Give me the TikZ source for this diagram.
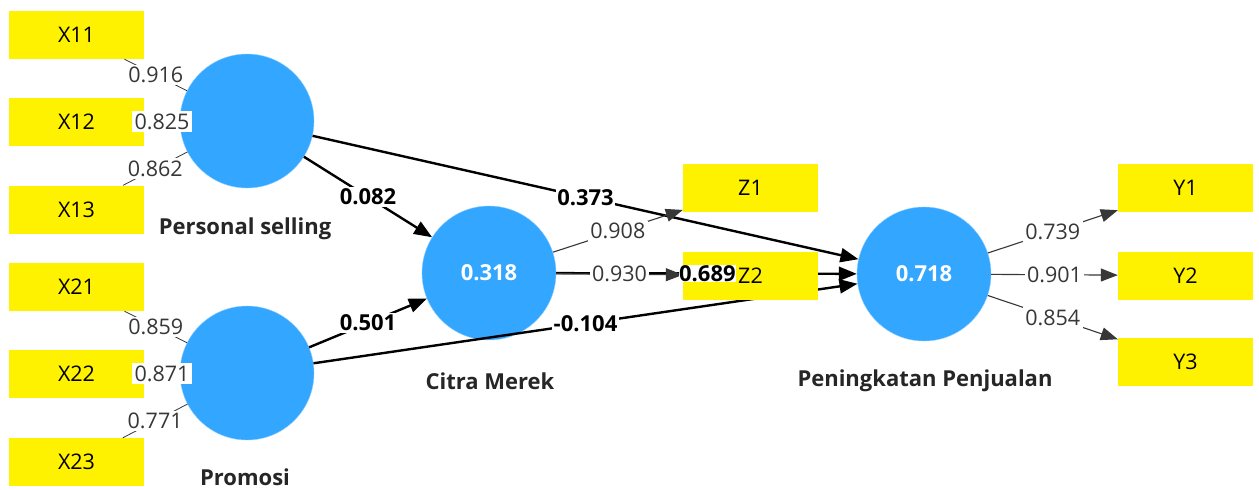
\documentclass[tikz,border=0pt]{standalone}
\usepackage{fontspec}
\setmainfont{Open Sans}
\usetikzlibrary{arrows.meta}
\definecolor{lvblue}{RGB}{51,166,255}
\definecolor{loadgray}{RGB}{55,55,55}
\tikzset{
  ind/.style={fill=yellow, minimum width=135pt, minimum height=48pt, inner sep=0pt,
    font=\fontsize{21.5}{25}\selectfont},
  lv/.style={circle, fill=lvblue, draw=lvblue!55, minimum size=134pt, inner sep=0pt,
    text=white, font=\fontsize{22}{25}\selectfont\bfseries},
  lvname/.style={font=\fontsize{22}{25}\selectfont\bfseries, text=black!85},
  inner/.style={line width=2.4pt, -{Triangle[length=18pt,width=14pt]}},
  outer/.style={line width=1.1pt, draw=loadgray, -{Triangle[length=17pt,width=13pt]}},
  outerleft/.style={line width=0.8pt, draw=loadgray},
  coef/.style={fill=white, inner sep=1.5pt, font=\fontsize{22}{25}\selectfont\bfseries},
  load/.style={fill=white, inner sep=2.5pt, text=loadgray, font=\fontsize{21.5}{25}\selectfont},
}
\begin{document}
\begin{tikzpicture}[x=1pt,y=-1pt]
  \fill[white] (0,0) rectangle (1259,490);
  \useasboundingbox (0,0) rectangle (1259,490);
  % Variabel laten
  \node[lv] (ps) at (247,121) {};
  \node[lv] (pr) at (247,373) {};
  \node[lv] (cm) at (489,273) {0.318};
  \node[lv] (pp) at (924,274) {0.718};
  % Nama variabel
  \node[lvname] (psname) at (245,229) {Personal selling};
  \node[lvname] (prname) at (245,477) {Promosi};
  \node[lvname] (cmname) at (490,381) {Citra Merek};
  \node[lvname] (ppname) at (925,381) {Peningkatan Penjualan};
  % Koefisien jalur
  \draw[inner] (ps) -- (pp) node[coef, midway] {0.373};
  \draw[inner] (ps) -- (cm) node[coef, midway] {0.082};
  \draw[inner] (pr) -- (cm) node[coef, midway] {0.501};
  \draw[inner] (pr) -- (pp) node[coef, midway] {-0.104};
  \draw[inner] (cm) -- (pp);
  % Indikator
  \node[ind] (x11) at (76.5,35) {X11};
  \node[ind] (x12) at (76.5,122) {X12};
  \node[ind] (x13) at (76.5,209.5) {X13};
  \node[ind] (x21) at (76.5,287) {X21};
  \node[ind] (x22) at (76.5,374) {X22};
  \node[ind] (x23) at (76.5,462) {X23};
  \node[ind] (z1) at (750.5,188) {Z1};
  \node[ind] (z2) at (750.5,275.5) {Z2};
  \node[ind] (y1) at (1185.5,188) {Y1};
  \node[ind] (y2) at (1185.5,275.5) {Y2};
  \node[ind] (y3) at (1185.5,362) {Y3};
  % Outer loading
  \draw[outerleft] (ps) -- (x11) node[load, midway] {0.916};
  \draw[outerleft] (ps) -- (x12) node[load, midway] {0.825};
  \draw[outerleft] (ps) -- (x13) node[load, midway] {0.862};
  \draw[outerleft] (pr) -- (x21) node[load, midway] {0.859};
  \draw[outerleft] (pr) -- (x22) node[load, midway] {0.871};
  \draw[outerleft] (pr) -- (x23) node[load, midway] {0.771};
  \draw[outer] (cm) -- (z1) node[load, midway] {0.908};
  \draw[outer] (cm) -- (z2) node[load, midway] {0.930};
  \draw[outer] (pp) -- (y1) node[load, midway] {0.739};
  \draw[outer] (pp) -- (y2) node[load, midway] {0.901};
  \draw[outer] (pp) -- (y3) node[load, midway] {0.854};
  % Label jalur Citra Merek -> Peningkatan Penjualan
  \path (cm) -- (pp) node[coef, inner sep=0.5pt, pos=0.503] (cmpp) {0.689};
\end{tikzpicture}
\end{document}
